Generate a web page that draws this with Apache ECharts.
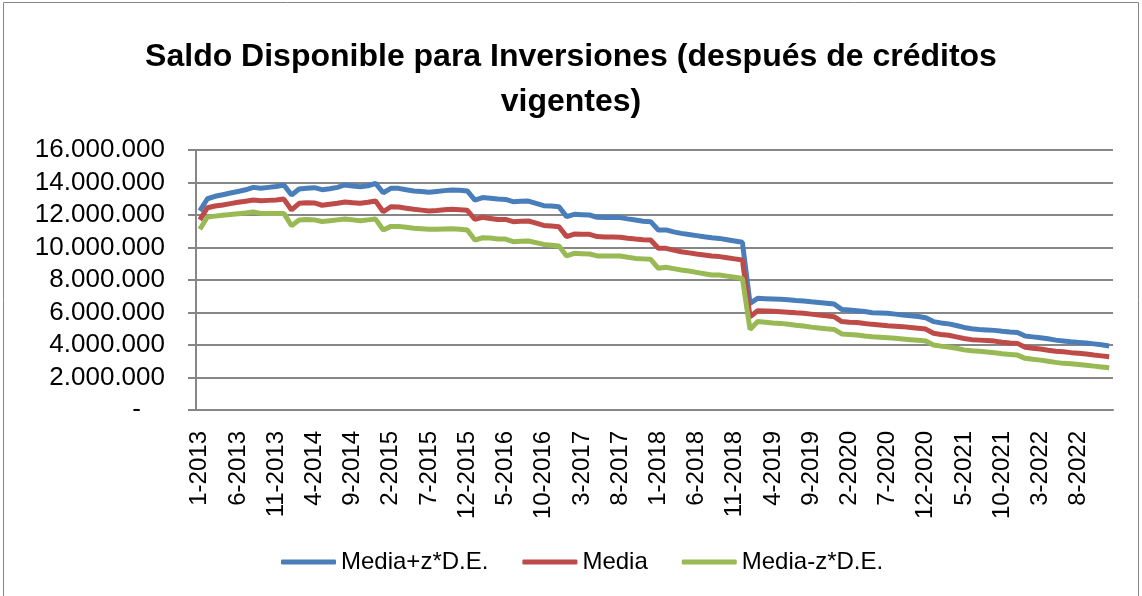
<!DOCTYPE html>
<html>
<head>
<meta charset="utf-8">
<script src="https://cdn.jsdelivr.net/npm/echarts@6/dist/echarts.min.js"></script>
<style>
	html, body { margin: 0; padding: 0; background: #fff; }
	#chart { width: 1142px; height: 596px; }
</style>
</head>
<body>
<div id="chart"></div>
<script type="text/javascript">
	// meses 1-2013 .. 12-2022
	var meses = [];
	for (var y = 2013; y <= 2022; y++) {
		for (var m = 1; m <= 12; m++) meses.push(m + '-' + y);
	}

	// Media+z*D.E.
	var mediaMas = [
		12.25, 13.0, 13.15, 13.25, 13.35, 13.45, 13.55, 13.7, 13.65, 13.7, 13.75, 13.85,
		13.23, 13.6, 13.65, 13.68, 13.56, 13.62, 13.7, 13.85, 13.78, 13.74, 13.8, 13.95,
		13.37, 13.64, 13.64, 13.55, 13.48, 13.45, 13.4, 13.45, 13.5, 13.54, 13.52, 13.48,
		12.92, 13.07, 13.03, 12.98, 12.96, 12.82, 12.84, 12.86, 12.72, 12.57, 12.55, 12.51,
		11.9, 12.04, 12.02, 12.0, 11.86, 11.85, 11.85, 11.84, 11.76, 11.69, 11.62, 11.59,
		11.08, 11.08, 10.96, 10.87, 10.8, 10.73, 10.66, 10.6, 10.56, 10.48, 10.4, 10.32,
		6.56, 6.87, 6.85, 6.83, 6.81, 6.78, 6.74, 6.71, 6.66, 6.62, 6.57, 6.52,
		6.19, 6.15, 6.11, 6.06, 5.99, 5.97, 5.95, 5.9, 5.85, 5.8, 5.75, 5.68,
		5.44, 5.36, 5.3, 5.2, 5.08, 5.0, 4.96, 4.93, 4.9, 4.84, 4.8, 4.77,
		4.55, 4.5, 4.45, 4.38, 4.3, 4.25, 4.2, 4.16, 4.12, 4.07, 4.01, 3.94
	];
	// Media
	var media = [
		11.7, 12.45, 12.55, 12.62, 12.7, 12.78, 12.85, 12.92, 12.88, 12.9, 12.92, 12.98,
		12.31, 12.72, 12.76, 12.74, 12.6, 12.66, 12.72, 12.8, 12.76, 12.72, 12.78, 12.86,
		12.2, 12.51, 12.49, 12.42, 12.35, 12.3, 12.25, 12.28, 12.32, 12.35, 12.32, 12.29,
		11.73, 11.86, 11.79, 11.72, 11.73, 11.59, 11.61, 11.63, 11.5, 11.36, 11.32, 11.28,
		10.67, 10.83, 10.82, 10.81, 10.67, 10.65, 10.64, 10.63, 10.57, 10.52, 10.48, 10.46,
		9.95, 9.95, 9.84, 9.74, 9.67, 9.6, 9.54, 9.48, 9.44, 9.37, 9.3, 9.23,
		5.74, 6.11, 6.09, 6.07, 6.05, 6.02, 5.98, 5.95, 5.9, 5.85, 5.8, 5.74,
		5.44, 5.4, 5.38, 5.32, 5.27, 5.23, 5.19, 5.16, 5.13, 5.08, 5.03, 4.98,
		4.72, 4.65, 4.6, 4.5, 4.4, 4.33, 4.3, 4.27, 4.24, 4.17, 4.12, 4.1,
		3.86, 3.8, 3.75, 3.68, 3.62, 3.58, 3.53, 3.49, 3.44, 3.38, 3.33, 3.28
	];
	// Media-z*D.E.
	var mediaMenos = [
		11.12, 11.88, 11.93, 11.98, 12.03, 12.08, 12.12, 12.18, 12.1, 12.1, 12.1, 12.1,
		11.34, 11.69, 11.73, 11.7, 11.6, 11.65, 11.7, 11.75, 11.7, 11.65, 11.7, 11.75,
		11.08, 11.3, 11.3, 11.24, 11.18, 11.15, 11.12, 11.12, 11.14, 11.16, 11.12, 11.08,
		10.46, 10.6, 10.58, 10.52, 10.52, 10.36, 10.38, 10.4, 10.3, 10.19, 10.14, 10.09,
		9.48, 9.64, 9.62, 9.6, 9.48, 9.48, 9.48, 9.48, 9.4, 9.33, 9.3, 9.27,
		8.72, 8.78, 8.7, 8.62, 8.55, 8.47, 8.39, 8.31, 8.31, 8.24, 8.17, 8.1,
		4.96, 5.44, 5.4, 5.36, 5.33, 5.28, 5.22, 5.17, 5.1, 5.05, 5.0, 4.96,
		4.68, 4.65, 4.62, 4.56, 4.51, 4.48, 4.45, 4.41, 4.37, 4.33, 4.29, 4.25,
		4.0, 3.93, 3.88, 3.8, 3.7, 3.65, 3.62, 3.57, 3.52, 3.46, 3.42, 3.38,
		3.18, 3.12, 3.07, 3.0, 2.93, 2.87, 2.84, 2.8, 2.75, 2.7, 2.65, 2.6
	];

	function millones(arr) {
		return arr.map(function (v) { return Math.round(v * 1000000); });
	}
	function puntos(v) {
		if (v === 0) return '{z|-}';
		return String(v).replace(/\B(?=(\d{3})+(?!\d))/g, '.');
	}

	var fuente = "'Liberation Sans', Arial, sans-serif";
	var gris = '#868686';

	var myChart = echarts.init(document.getElementById('chart'), null, {renderer: 'canvas'});
	var option = {
		backgroundColor: '#fff',
		animation: false,
		title: {
			text: 'Saldo Disponible para Inversiones (después de créditos\nvigentes)',
			left: 'center',
			top: 30,
			textStyle: {
				fontFamily: fuente,
				fontWeight: 'bold',
				fontSize: 32,
				lineHeight: 45,
				color: '#000'
			}
		},
		graphic: [{
			type: 'rect',
			shape: {x: 3.5, y: 2.5, width: 1135, height: 600},
			style: {fill: 'none', stroke: gris, lineWidth: 1}
		}],
		legend: {
			left: 276,
			top: 545,
			itemWidth: 55,
			itemHeight: 5,
			itemGap: 34,
			icon: 'roundRect',
			textStyle: {fontFamily: fuente, fontSize: 24, color: '#000'},
			data: ['Media+z*D.E.', 'Media', 'Media-z*D.E.']
		},
		grid: {left: 196, right: 29, top: 150, bottom: 186},
		xAxis: {
			type: 'category',
			boundaryGap: true,
			data: meses,
			axisLine: {lineStyle: {color: gris, width: 2}},
			axisTick: {interval: 0, length: 7, lineStyle: {color: gris, width: 1.5}},
			axisLabel: {
				interval: 4,
				rotate: 90,
				margin: 21,
				fontFamily: fuente,
				fontSize: 24,
				color: '#000'
			}
		},
		yAxis: {
			type: 'value',
			min: 0,
			max: 16000000,
			interval: 2000000,
			axisLine: {show: true, lineStyle: {color: gris, width: 2}},
			axisTick: {show: true, length: 8, lineStyle: {color: gris, width: 2}},
			splitLine: {lineStyle: {color: gris, width: 2}},
			axisLabel: {
				margin: 31,
				fontFamily: fuente,
				fontSize: 26,
				color: '#000',
				formatter: puntos,
				rich: {z: {fontFamily: fuente, fontSize: 26, color: '#000', padding: [0, 24, 0, 0]}}
			}
		},
		series: [
			{
				name: 'Media+z*D.E.',
				type: 'line',
				symbol: 'none',
				data: millones(mediaMas),
				itemStyle: {color: '#4a7ebb'},
				lineStyle: {color: '#4a7ebb', width: 5}
			},
			{
				name: 'Media',
				type: 'line',
				symbol: 'none',
				data: millones(media),
				itemStyle: {color: '#be4b48'},
				lineStyle: {color: '#be4b48', width: 5}
			},
			{
				name: 'Media-z*D.E.',
				type: 'line',
				symbol: 'none',
				data: millones(mediaMenos),
				itemStyle: {color: '#98b954'},
				lineStyle: {color: '#98b954', width: 5}
			}
		]
	};
	myChart.setOption(option);
</script>
</body>
</html>
